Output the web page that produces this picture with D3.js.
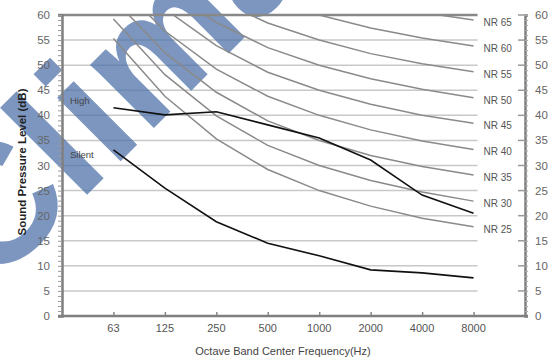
<!DOCTYPE html>
<html>
<head>
<meta charset="utf-8">
<script src="https://cdn.jsdelivr.net/npm/d3@7"></script>
<style>
  body { margin: 0; background: #fff; }
  svg text { font-family: "Liberation Sans", Arial, sans-serif; }
</style>
</head>
<body>
<div id="chart"></div>
<script>
// octave band centre frequencies
const freqs = ["63", "125", "250", "500", "1000", "2000", "4000", "8000"];
const yTicks = [0, 5, 10, 15, 20, 25, 30, 35, 40, 45, 50, 55, 60];

// NR reference curves (dB)
const nr25 = [55.3, 43.8, 35.3, 29.2, 25, 21.9, 19.5, 17.8];
const nr30 = [59.2, 48.1, 39.9, 34.0, 30, 27.0, 24.7, 22.9];
const nr35 = [63.2, 52.5, 44.6, 38.9, 35, 32.0, 29.8, 28.1];
const nr40 = [67.1, 56.8, 49.2, 43.8, 40, 37.1, 34.9, 33.2];
const nr45 = [71.1, 61.2, 53.9, 48.6, 45, 42.2, 40.0, 38.4];
const nr50 = [75.0, 65.5, 58.5, 53.5, 50, 47.3, 45.2, 43.5];
const nr55 = [79.0, 69.9, 63.2, 58.4, 55, 52.3, 50.3, 48.7];
const nr60 = [82.9, 74.2, 67.8, 63.2, 60, 57.4, 55.4, 53.8];
const nr65 = [86.9, 78.6, 72.5, 68.1, 65, 62.5, 60.5, 59.0];
const nrNames = ["NR 25", "NR 30", "NR 35", "NR 40", "NR 45", "NR 50", "NR 55", "NR 60", "NR 65"];

// measured unit spectra
const high = [41.5, 40.1, 40.7, 38.1, 35.5, 31.1, 24.1, 20.5];
const silent = [33.1, 25.5, 18.8, 14.5, 12.0, 9.2, 8.6, 7.6];

const W = 556, H = 361;
const margin = {top: 15, right: 31, bottom: 45, left: 62};

const svg = d3.select("#chart").append("svg")
  .attr("width", W)
  .attr("height", H);

const x = d3.scalePoint()
  .domain(freqs)
  .range([margin.left, W - margin.right])
  .padding(1);

const y = d3.scaleLinear()
  .domain([0, 60])
  .range([H - margin.bottom, margin.top]);

const x0 = margin.left, x1 = W - margin.right;
const gridEnd = x(freqs[freqs.length - 1]) + 4;

// horizontal grid
svg.append("g")
  .selectAll("line")
  .data(yTicks.filter(d => d > 0 && d < 60))
  .enter().append("line")
    .attr("x1", x0).attr("x2", gridEnd)
    .attr("y1", d => y(d)).attr("y2", d => y(d))
    .attr("stroke", "#c8c8c8")
    .attr("stroke-width", 1.5);

// watermark
svg.append("text")
  .attr("transform", "translate(-8,290) rotate(-45)")
  .attr("font-size", 170)
  .attr("font-weight", "bold")
  .attr("fill", "#4a6fa8")
  .attr("opacity", 0.72)
  .text("Clima");

// clip for curves above 60 dB
svg.append("clipPath").attr("id", "plot")
  .append("rect")
    .attr("x", x0).attr("y", y(60))
    .attr("width", x1 - x0).attr("height", y(0) - y(60));

const line = d3.line()
  .x((d, i) => x(freqs[i]))
  .y(d => y(d));

const nrSeries = [nr25, nr30, nr35, nr40, nr45, nr50, nr55, nr60, nr65];

const curves = svg.append("g").attr("clip-path", "url(#plot)");
curves.selectAll("path.nr")
  .data(nrSeries)
  .enter().append("path")
    .attr("class", "nr")
    .attr("d", line)
    .attr("fill", "none")
    .attr("stroke", "#8a8a8a")
    .attr("stroke-width", 1.5);

curves.selectAll("path.unit")
  .data([high, silent])
  .enter().append("path")
    .attr("class", "unit")
    .attr("d", line)
    .attr("fill", "none")
    .attr("stroke", "#111")
    .attr("stroke-width", 1.6);

// NR labels at the 8 kHz end
svg.append("g")
  .selectAll("text")
  .data(nrSeries)
  .enter().append("text")
    .attr("x", gridEnd + 6)
    .attr("y", d => y(d[d.length - 1]) + 6)
    .attr("font-size", 10)
    .attr("fill", "#555")
    .text((d, i) => nrNames[i]);

// top line at 60
svg.append("line")
  .attr("x1", x0 - 4).attr("x2", gridEnd)
  .attr("y1", y(60)).attr("y2", y(60))
  .attr("stroke", "#888")
  .attr("stroke-width", 2.5);

// left axis
const minor = d3.range(0, 61, 1);
const yLeft = svg.append("g")
  .attr("transform", "translate(" + x0 + ",0)")
  .call(d3.axisLeft(y).tickValues(minor).tickSize(4).tickFormat(""));
yLeft.select(".domain").attr("stroke", "#7f7f7f").attr("stroke-width", 2.5);
yLeft.selectAll(".tick line").attr("stroke", "#999").attr("stroke-width", 1);

svg.append("g")
  .selectAll("text")
  .data(yTicks)
  .enter().append("text")
    .attr("x", 50)
    .attr("y", d => y(d) + 4)
    .attr("text-anchor", "end")
    .attr("font-size", 11.5)
    .attr("fill", "#666")
    .text(d => d);

// right axis
const yRight = svg.append("g")
  .attr("transform", "translate(" + x1 + ",0)")
  .call(d3.axisRight(y).tickValues(minor).tickSize(3).tickFormat(""));
yRight.select(".domain").attr("stroke", "#7f7f7f").attr("stroke-width", 2.5);
yRight.selectAll(".tick line").attr("stroke", "#aaa").attr("stroke-width", 1);

svg.append("g")
  .selectAll("line")
  .data(yTicks)
  .enter().append("line")
    .attr("x1", x1 - 7).attr("x2", x1)
    .attr("y1", d => y(d)).attr("y2", d => y(d))
    .attr("stroke", "#999")
    .attr("stroke-width", 1.5);

svg.append("g")
  .selectAll("text")
  .data(yTicks)
  .enter().append("text")
    .attr("x", x1 + 10)
    .attr("y", d => y(d) + 4)
    .attr("font-size", 11.5)
    .attr("fill", "#666")
    .text(d => d);

// bottom axis
const xAxis = svg.append("g")
  .attr("transform", "translate(0," + y(0) + ")")
  .call(d3.axisTop(x).tickSize(4).tickFormat(""));
xAxis.select(".domain").remove();
xAxis.selectAll(".tick line").attr("stroke", "#888").attr("stroke-width", 1.5);

svg.append("line")
  .attr("x1", x0 - 4).attr("x2", x1 + 3)
  .attr("y1", y(0)).attr("y2", y(0))
  .attr("stroke", "#7f7f7f")
  .attr("stroke-width", 2.5);

svg.append("g")
  .selectAll("text")
  .data(freqs)
  .enter().append("text")
    .attr("x", d => x(d))
    .attr("y", y(0) + 16)
    .attr("text-anchor", "middle")
    .attr("font-size", 11)
    .attr("fill", "#555")
    .text(d => d);

// series labels
svg.append("text").attr("x", 70).attr("y", 104)
  .attr("font-size", 9.5).attr("fill", "#444").text("High");
svg.append("text").attr("x", 70).attr("y", 158)
  .attr("font-size", 9.5).attr("fill", "#444").text("Silent");

// axis titles
svg.append("text")
  .attr("transform", "translate(26,162) rotate(-90)")
  .attr("text-anchor", "middle")
  .attr("font-size", 11.5)
  .attr("font-weight", "bold")
  .attr("fill", "#222")
  .text("Sound Pressure Level (dB)");

svg.append("text")
  .attr("x", 283)
  .attr("y", 355)
  .attr("text-anchor", "middle")
  .attr("font-size", 11)
  .attr("fill", "#444")
  .text("Octave Band Center Frequency(Hz)");
</script>
</body>
</html>
